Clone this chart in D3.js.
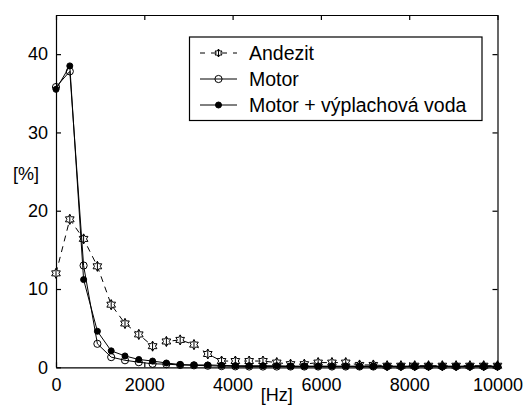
<!DOCTYPE html>
<html>
<head>
<meta charset="utf-8">
<script src="https://cdn.jsdelivr.net/npm/d3@7"></script>
<style>
  body { margin: 0; background: #fff; }
  svg { display: block; font-family: "Liberation Sans", Arial, sans-serif; }
</style>
</head>
<body>
<svg width="526" height="406"></svg>
<script>
const freq = [0, 312.5, 625, 937.5, 1250, 1562.5, 1875, 2187.5, 2500, 2812.5, 3125, 3437.5,
    3750, 4062.5, 4375, 4687.5, 5000, 5312.5, 5625, 5937.5, 6250, 6562.5, 6875, 7187.5,
    7500, 7812.5, 8125, 8437.5, 8750, 9062.5, 9375, 9687.5, 10000];
const andezit = [12.0, 18.9, 16.4, 12.9, 8.0, 5.6, 4.2, 2.7, 3.3, 3.5, 2.9, 1.7,
    0.8, 0.8, 0.8, 0.8, 0.6, 0.4, 0.4, 0.6, 0.6, 0.6, 0.3, 0.3,
    0.2, 0.2, 0.2, 0.2, 0.2, 0.2, 0.2, 0.2, 0.2];
const motor = [35.8, 37.8, 13.0, 3.0, 1.3, 0.9, 0.65, 0.45, 0.4, 0.3, 0.25, 0.2,
    0.15, 0.12, 0.1, 0.1, 0.1, 0.1, 0.1, 0.1, 0.1, 0.1, 0.1, 0.1,
    0.1, 0.1, 0.1, 0.1, 0.1, 0.1, 0.1, 0.1, 0.1];
const motorVoda = [35.5, 38.5, 11.2, 4.6, 2.1, 1.45, 1.0, 0.8, 0.55, 0.35, 0.3, 0.3,
    0.25, 0.2, 0.2, 0.2, 0.2, 0.15, 0.15, 0.15, 0.15, 0.15, 0.15, 0.15,
    0.15, 0.15, 0.15, 0.15, 0.15, 0.15, 0.15, 0.15, 0.15];
const seriesNames = ['Andezit', 'Motor', 'Motor + výplachová voda'];
const xTicks = [0, 2000, 4000, 6000, 8000, 10000];
const yTicks = [0, 10, 20, 30, 40];

const margin = { left: 56, top: 15, right: 28.5, bottom: 38.7 };
const svg = d3.select('svg');
const width = 526 - margin.left - margin.right;
const height = 406 - margin.top - margin.bottom;
const g = svg.append('g').attr('transform', `translate(${margin.left},${margin.top})`);

const x = d3.scaleLinear().domain([0, 10000]).range([0, width]);
const y = d3.scaleLinear().domain([0, 45]).range([height, 0]);

// axes, ticks pointing inside (matlab style box)
g.append('g').attr('transform', `translate(0,${height})`)
    .call(d3.axisBottom(x).tickValues(xTicks).tickFormat(d3.format('d'))
        .tickSize(-5).tickSizeOuter(0).tickPadding(11));
g.append('g')
    .call(d3.axisLeft(y).tickValues(yTicks).tickSize(-5).tickSizeOuter(0).tickPadding(8));
g.append('g')
    .call(d3.axisTop(x).tickValues(xTicks).tickSize(-5).tickSizeOuter(0).tickFormat(''));
g.append('g').attr('transform', `translate(${width},0)`)
    .call(d3.axisRight(y).tickValues(yTicks).tickSize(-5).tickSizeOuter(0).tickFormat(''));
g.selectAll('.tick text').attr('font-size', 18).attr('font-family', '"Liberation Sans", Arial, sans-serif').attr('fill', '#000');
g.selectAll('.domain, .tick line').attr('stroke', '#000').attr('stroke-width', 1.2);

// axis labels
svg.append('text').attr('x', 26).attr('y', 180).attr('text-anchor', 'middle')
    .attr('font-size', 18).text('[%]');
svg.append('text').attr('x', margin.left + width / 2).attr('y', 401).attr('text-anchor', 'middle')
    .attr('font-size', 18).text('[Hz]');

function hexagram(r) {
    const pts = [];
    for (let i = 0; i < 12; i++) {
        const a = -Math.PI / 2 + i * Math.PI / 6;
        const rr = i % 2 === 0 ? r : r / Math.sqrt(3);
        pts.push([rr * Math.cos(a), rr * Math.sin(a)]);
    }
    return 'M' + pts.map(p => p.join(',')).join('L') + 'Z' + `M0,${-r}L0,${r}`;
}

function drawMarker(sel, kind, size) {
    if (kind === 'star') {
        sel.append('path').attr('d', hexagram(size)).attr('fill', '#fff')
            .attr('stroke', '#000').attr('stroke-width', 1);
    } else if (kind === 'open') {
        sel.append('circle').attr('r', size).attr('fill', 'none')
            .attr('stroke', '#000').attr('stroke-width', 1);
    } else {
        sel.append('circle').attr('r', size).attr('fill', '#000')
            .attr('stroke', '#000').attr('stroke-width', 1);
    }
}

const series = [
    { name: seriesNames[0], values: andezit, dash: '6,5', marker: 'star', size: 5, lsize: 4 },
    { name: seriesNames[1], values: motor, dash: null, marker: 'open', size: 3.6, lsize: 3.6 },
    { name: seriesNames[2], values: motorVoda, dash: null, marker: 'filled', size: 3, lsize: 3 }
];

const line = d3.line().x((d, i) => x(freq[i])).y(d => y(d));

series.forEach(s => {
    g.append('path').datum(s.values)
        .attr('d', line)
        .attr('fill', 'none')
        .attr('stroke', '#000')
        .attr('stroke-width', 1)
        .attr('stroke-dasharray', s.dash);
    g.append('g').selectAll('g').data(s.values).join('g')
        .attr('transform', (d, i) => `translate(${x(freq[i])},${y(d)})`)
        .each(function() { drawMarker(d3.select(this), s.marker, s.size); });
});

// legend
const leg = svg.append('g');
leg.append('rect').attr('x', 189.5).attr('y', 37).attr('width', 292.5).attr('height', 83.5)
    .attr('fill', '#fff').attr('stroke', '#000').attr('stroke-width', 1.2);
series.forEach((s, i) => {
    const ly = 53 + i * 26;
    leg.append('line').attr('x1', 200).attr('x2', 237).attr('y1', ly).attr('y2', ly)
        .attr('stroke', '#000').attr('stroke-width', 1).attr('stroke-dasharray', s.dash ? '5,6' : null);
    drawMarker(leg.append('g').attr('transform', `translate(218.5,${ly})`), s.marker, s.lsize);
    leg.append('text').attr('x', 249).attr('y', ly).attr('dy', '0.35em')
        .attr('font-size', 19.5).text(s.name);
});
</script>
</body>
</html>
